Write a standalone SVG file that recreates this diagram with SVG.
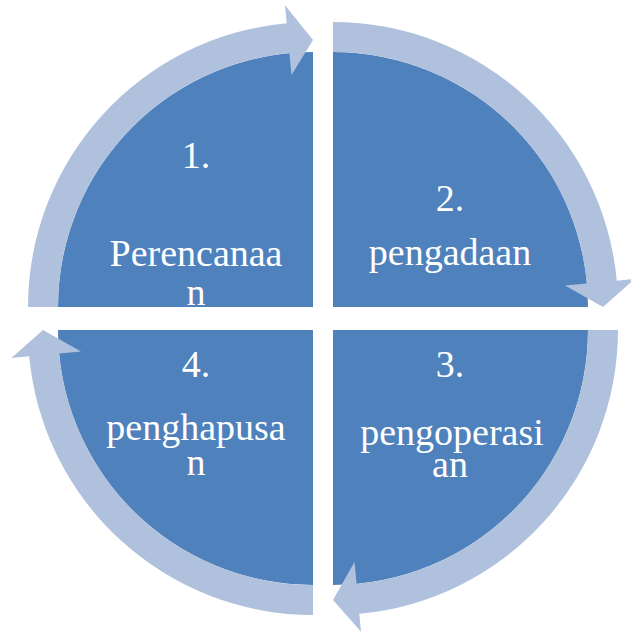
<svg xmlns="http://www.w3.org/2000/svg" width="631" height="637" viewBox="0 0 631 637">
<style>
.seg{fill:#4F81BD;}
.arr{fill:#B0C1DE;}
.lbl{fill:#FFFFFF;font-family:"Liberation Serif","Times New Roman",serif;font-size:38px;text-anchor:middle;}
</style>
<rect width="631" height="637" fill="#FFFFFF"/>
<g id="node1">
<path class="seg" d="M313 307 L58 307 A255 255 0 0 1 313 52 Z"/>
<text class="lbl" x="196" y="168">1.</text>
<text class="lbl" x="196" y="266">Perencanaa</text>
<text class="lbl" x="196" y="305">n</text>
</g>
<g id="node2">
<path class="seg" d="M333 307 L333 52 A255 255 0 0 1 588 307 Z"/>
<text class="lbl" x="450" y="211">2.</text>
<text class="lbl" x="450" y="265">pengadaan</text>
</g>
<g id="node3">
<path class="seg" d="M333 330 L588 330 A255 255 0 0 1 333 585 Z"/>
<text class="lbl" x="450" y="377">3.</text>
<text class="lbl" x="452" y="445">pengoperasi</text>
<text class="lbl" x="450" y="477">an</text>
</g>
<g id="node4">
<path class="seg" d="M313 330 L313 585 A255 255 0 0 1 58 330 Z"/>
<text class="lbl" x="196" y="377">4.</text>
<text class="lbl" x="196" y="440">penghapusa</text>
<text class="lbl" x="196" y="475">n</text>
</g>
<g id="connectors">
<path class="arr" d="M28 307 A285 285 0 0 1 286.7 23.2 L285 5.3 L313 40 L291.5 75 L289.4 53.1 A255 255 0 0 0 58 307 Z"/>
<path class="arr" d="M333 22 A285 285 0 0 1 616.8 280.7 L634.7 279 L603 307 L565 285.5 L586.9 283.4 A255 255 0 0 0 333 52 Z"/>
<path class="arr" d="M618 330 A285 285 0 0 1 359.3 613.8 L361 631.7 L333 600 L354.5 562 L356.6 583.9 A255 255 0 0 0 588 330 Z"/>
<path class="arr" d="M313 615 A285 285 0 0 1 29.2 356.3 L11.3 358 L43 330 L81 351.5 L59.1 353.6 A255 255 0 0 0 313 585 Z"/>
</g>
</svg>
